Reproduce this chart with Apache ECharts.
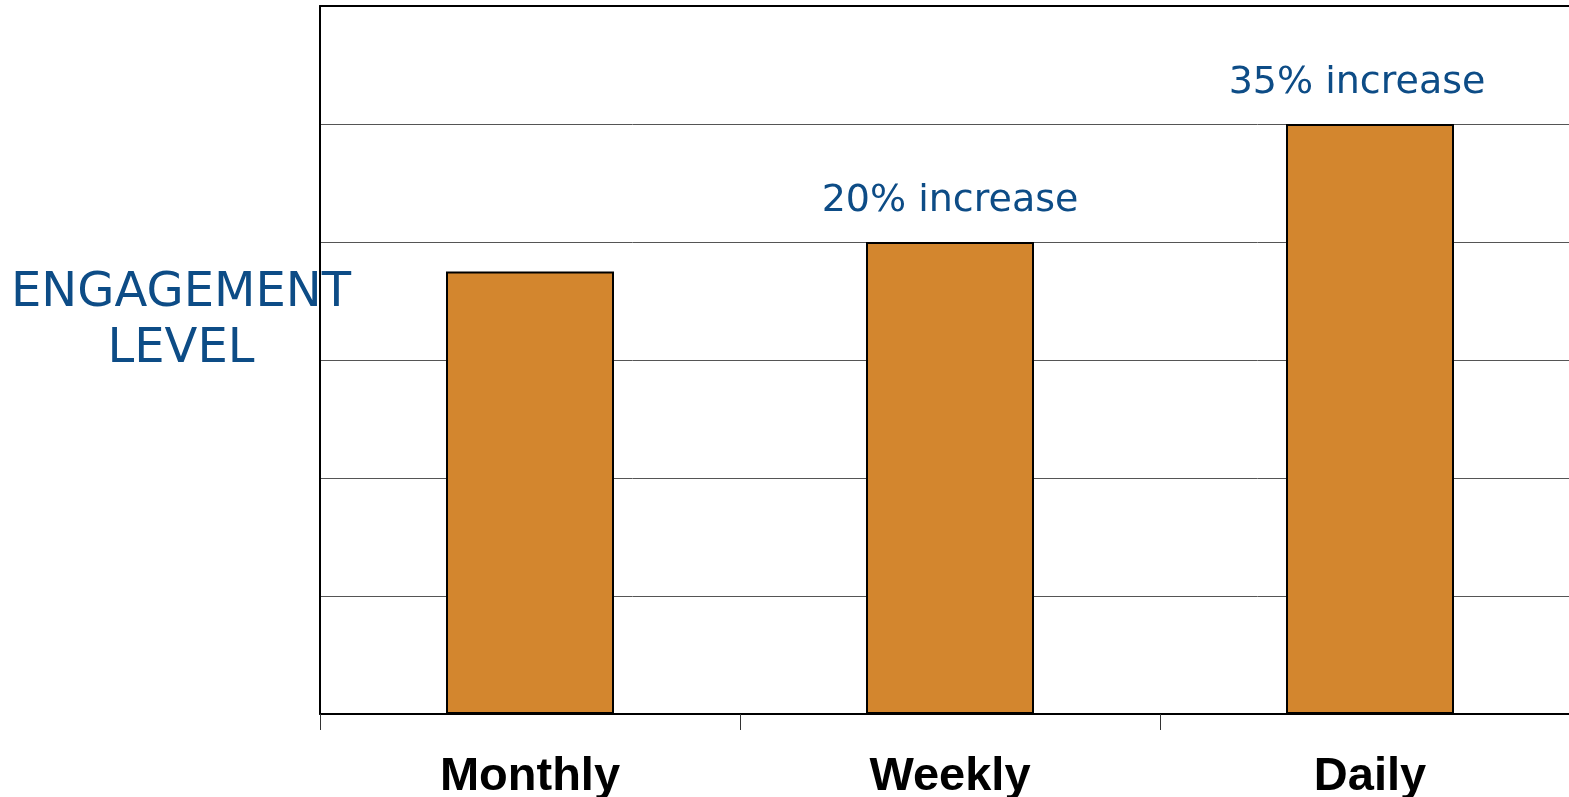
<!DOCTYPE html>
<html>
<head>
<meta charset="utf-8">
<title>Engagement level</title>
<script src="https://cdn.jsdelivr.net/npm/echarts@6/dist/echarts.min.js"></script>
<style>
  html, body { margin: 0; padding: 0; background: #fff; }
  #chart { width: 1569px; height: 797px; }
</style>
</head>
<body>
<div id="chart"></div>
<script>
// data
const categories = ["Monthly", "Weekly", "Daily"];
const engagement = [3.75, 4, 5];
const annotations = ["", "20% increase", "35% increase"];

const blue = "#0d4c86";

const chart = echarts.init(document.getElementById("chart"));

// last label sits a bit left of its bar in the original
const barData = engagement.map((v, i) =>
  i === engagement.length - 1 ? { value: v, label: { offset: [-13, 0] } } : v
);

const option = {
  animation: false,
  title: {
    text: "ENGAGEMENT\nLEVEL",
    left: 176,
    top: 261,
    textAlign: "center",
    textStyle: {
      fontFamily: "DejaVu Sans",
      fontWeight: "normal",
      fontSize: 48,
      lineHeight: 56,
      color: blue,
    },
  },
  // plot runs past the right edge of the page, like the original
  grid: {
    left: 320,
    width: 1260,
    top: 6,
    bottom: 83,
    outerBoundsMode: "none",
  },
  xAxis: [
    {
      type: "category",
      data: categories,
      axisLine: { lineStyle: { color: "#000", width: 2 } },
      axisTick: { show: true, length: 16, lineStyle: { color: "#333", width: 1 } },
      axisLabel: {
        margin: 40,
        fontFamily: "Liberation Sans",
        fontWeight: "bold",
        fontSize: 47,
        color: "#000",
      },
    },
    {
      // top border of the plot
      type: "category",
      position: "top",
      data: categories,
      axisLine: { show: true, lineStyle: { color: "#000", width: 2 } },
      axisTick: { show: false },
      axisLabel: { show: false },
    },
  ],
  yAxis: {
    type: "value",
    min: 0,
    max: 6,
    interval: 1,
    axisLine: { show: true, lineStyle: { color: "#000", width: 2 } },
    axisTick: { show: false },
    axisLabel: { show: false },
    splitLine: { lineStyle: { color: "#555", width: 1 } },
  },
  series: [
    {
      type: "bar",
      data: barData,
      barWidth: "40%",
      itemStyle: {
        color: "#d3862e",
        borderColor: "#000",
        borderWidth: 2,
      },
      label: {
        show: true,
        position: "top",
        distance: 22,
        fontFamily: "DejaVu Sans",
        fontSize: 38,
        color: blue,
        formatter: (p) => annotations[p.dataIndex],
      },
    },
  ],
};

chart.setOption(option);
</script>
</body>
</html>
